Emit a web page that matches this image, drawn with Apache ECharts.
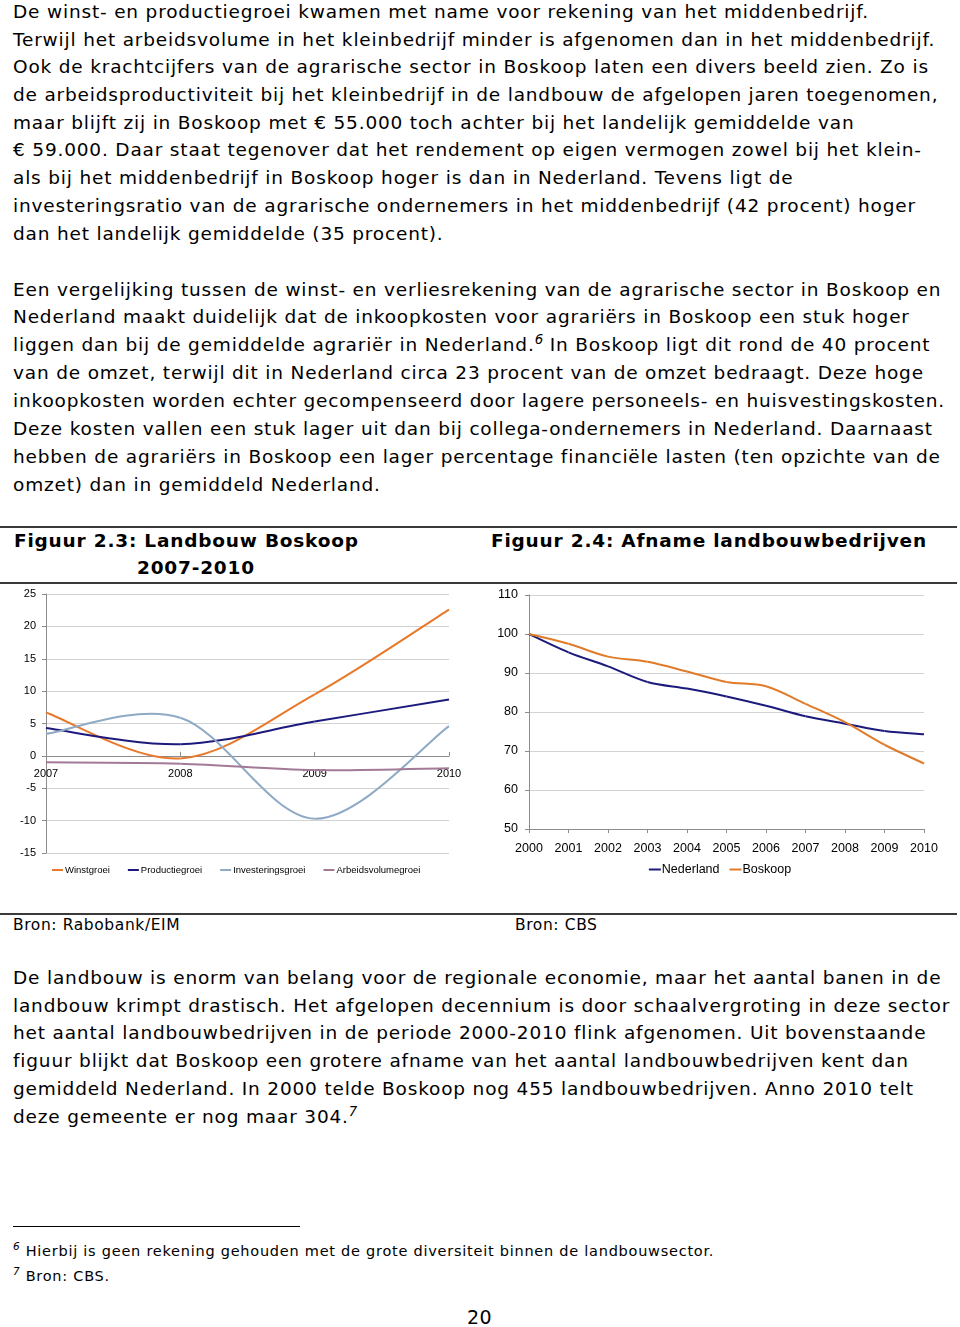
<!DOCTYPE html>
<html><head><meta charset="utf-8">
<script src="https://cdn.jsdelivr.net/npm/echarts@6/dist/echarts.min.js"></script>
<style>
html,body{margin:0;padding:0;background:#fff;}
#page{position:relative;width:960px;height:1327px;overflow:hidden;font-family:"DejaVu Sans",Verdana,sans-serif;color:#000;}
.t{position:absolute;white-space:nowrap;font-size:18.5px;letter-spacing:0.82px;line-height:22px;}
.h{position:absolute;white-space:nowrap;font-size:18.5px;letter-spacing:0.8px;line-height:24px;font-weight:bold;}
.s{position:absolute;white-space:nowrap;font-size:15.5px;letter-spacing:0.6px;line-height:20px;}
.f{position:absolute;white-space:nowrap;font-size:14.5px;letter-spacing:0.75px;line-height:18px;}
sup{font-style:italic;font-size:0.72em;line-height:0;letter-spacing:0;}
.rule{position:absolute;height:2px;background:#3a3a3a;}
#c1{position:absolute;left:0;top:580px;width:480px;height:320px;}
#c2{position:absolute;left:480px;top:580px;width:480px;height:320px;}
</style></head>
<body><div id="page">
<div class="t" style="left:13px;top:1px">De winst- en productiegroei kwamen met name voor rekening van het middenbedrijf.</div>
<div class="t" style="left:13px;top:29px">Terwijl het arbeidsvolume in het kleinbedrijf minder is afgenomen dan in het middenbedrijf.</div>
<div class="t" style="left:13px;top:56px">Ook de krachtcijfers van de agrarische sector in Boskoop laten een divers beeld zien. Zo is</div>
<div class="t" style="left:13px;top:84px">de arbeidsproductiviteit bij het kleinbedrijf in de landbouw de afgelopen jaren toegenomen,</div>
<div class="t" style="left:13px;top:112px">maar blijft zij in Boskoop met € 55.000 toch achter bij het landelijk gemiddelde van</div>
<div class="t" style="left:13px;top:139px">€ 59.000. Daar staat tegenover dat het rendement op eigen vermogen zowel bij het klein-</div>
<div class="t" style="left:13px;top:167px">als bij het middenbedrijf in Boskoop hoger is dan in Nederland. Tevens ligt de</div>
<div class="t" style="left:13px;top:195px">investeringsratio van de agrarische ondernemers in het middenbedrijf (42 procent) hoger</div>
<div class="t" style="left:13px;top:223px">dan het landelijk gemiddelde (35 procent).</div>

<div class="t" style="left:13px;top:279px">Een vergelijking tussen de winst- en verliesrekening van de agrarische sector in Boskoop en</div>
<div class="t" style="left:13px;top:306px">Nederland maakt duidelijk dat de inkoopkosten voor agrariërs in Boskoop een stuk hoger</div>
<div class="t" style="left:13px;top:334px">liggen dan bij de gemiddelde agrariër in Nederland.<sup>6</sup> In Boskoop ligt dit rond de 40 procent</div>
<div class="t" style="left:13px;top:362px">van de omzet, terwijl dit in Nederland circa 23 procent van de omzet bedraagt. Deze hoge</div>
<div class="t" style="left:13px;top:390px">inkoopkosten worden echter gecompenseerd door lagere personeels- en huisvestingskosten.</div>
<div class="t" style="left:13px;top:418px">Deze kosten vallen een stuk lager uit dan bij collega-ondernemers in Nederland. Daarnaast</div>
<div class="t" style="left:13px;top:446px">hebben de agrariërs in Boskoop een lager percentage financiële lasten (ten opzichte van de</div>
<div class="t" style="left:13px;top:474px">omzet) dan in gemiddeld Nederland.</div>

<div class="rule" style="left:0;top:526px;width:957px"></div>
<div class="h" style="left:14px;top:529px">Figuur 2.3: Landbouw Boskoop</div>
<div class="h" style="left:137px;top:556px">2007-2010</div>
<div class="h" style="left:491px;top:529px">Figuur 2.4: Afname landbouwbedrijven</div>
<div class="rule" style="left:0;top:582px;width:957px"></div>

<div id="c1"></div>
<div id="c2"></div>

<div class="rule" style="left:0;top:913px;width:957px"></div>
<div class="s" style="left:13px;top:915px">Bron: Rabobank/EIM</div>
<div class="s" style="left:515px;top:915px">Bron: CBS</div>

<div class="t" style="left:13px;top:967px">De landbouw is enorm van belang voor de regionale economie, maar het aantal banen in de</div>
<div class="t" style="left:13px;top:995px">landbouw krimpt drastisch. Het afgelopen decennium is door schaalvergroting in deze sector</div>
<div class="t" style="left:13px;top:1022px">het aantal landbouwbedrijven in de periode 2000-2010 flink afgenomen. Uit bovenstaande</div>
<div class="t" style="left:13px;top:1050px">figuur blijkt dat Boskoop een grotere afname van het aantal landbouwbedrijven kent dan</div>
<div class="t" style="left:13px;top:1078px">gemiddeld Nederland. In 2000 telde Boskoop nog 455 landbouwbedrijven. Anno 2010 telt</div>
<div class="t" style="left:13px;top:1106px">deze gemeente er nog maar 304.<sup>7</sup></div>

<div style="position:absolute;left:13px;top:1226px;width:287px;height:1px;background:#000"></div>
<div class="f" style="left:13px;top:1242px"><sup>6</sup><span style="margin-left:6px">Hierbij is geen rekening gehouden met de grote diversiteit binnen de landbouwsector.</span></div>
<div class="f" style="left:13px;top:1267px"><sup>7</sup><span style="margin-left:6px">Bron: CBS.</span></div>
<div class="t" style="left:467px;top:1306px;font-size:19px;letter-spacing:0.5px">20</div>
</div>
<script>
// Figuur 2.3 data
var years1 = ['2007','2008','2009','2010'];
var winstgroei = [6.7, -0.4, 9.5, 22.6];
var productiegroei = [4.3, 1.8, 5.3, 8.7];
var investeringsgroei = [3.4, 5.9, -9.7, 4.6];
var arbeidsvolumegroei = [-1.0, -1.2, -2.2, -1.9];
var ticks1 = {min:-15, max:25, interval:5};
// Figuur 2.4 data
var years2 = ['2000','2001','2002','2003','2004','2005','2006','2007','2008','2009','2010'];
var nederland = [100, 95.3, 91.7, 87.7, 86.0, 84.0, 81.6, 78.9, 77.0, 75.1, 74.3];
var boskoop = [100, 97.5, 94.2, 92.9, 90.4, 87.7, 86.6, 82.1, 77.4, 71.6, 66.8];
var ticks2 = {min:50, max:110, interval:10};

var FONT = '"Liberation Sans", Arial, sans-serif';

// Excel-style smoothed line (Catmull-Rom through the data points, in pixel space)
function curveSeries(name, values, color, width){
  return {
    name:name, type:'custom', coordinateSystem:'cartesian2d',
    data: values.map(function(v,i){return [i,v];}),
    encode:{x:0, y:1},
    itemStyle:{color:color},
    renderItem:function(params, api){
      if (params.dataIndex !== 0) return null;
      var pts = values.map(function(v,i){return api.coord([i,v]);});
      var children = [];
      for (var i=0;i<pts.length-1;i++){
        var p0 = pts[i-1] || pts[i], p1 = pts[i], p2 = pts[i+1], p3 = pts[i+2] || pts[i+1];
        children.push({type:'bezierCurve', shape:{
          x1:p1[0], y1:p1[1], x2:p2[0], y2:p2[1],
          cpx1:p1[0]+(p2[0]-p0[0])/6, cpy1:p1[1]+(p2[1]-p0[1])/6,
          cpx2:p2[0]-(p3[0]-p1[0])/6, cpy2:p2[1]-(p3[1]-p1[1])/6},
          style:{stroke:color, lineWidth:width, fill:null}, silent:true});
      }
      return {type:'group', children:children};
    }
  };
}

var grid1 = {left:46, right:31, top:14, bottom:47};
var gridH1 = 320 - grid1.top - grid1.bottom;
var c1 = echarts.init(document.getElementById('c1'), null, {renderer:'canvas'});
c1.setOption({
  animation:false,
  grid:grid1,
  legend:{left:52, top:285, padding:0, icon:'rect', itemWidth:11, itemHeight:2, itemGap:18,
    textStyle:{fontFamily:FONT, fontSize:9.5, color:'#000', padding:[0,0,0,-3]},
    data:['Winstgroei','Productiegroei','Investeringsgroei','Arbeidsvolumegroei']},
  xAxis:{type:'category', data:years1, boundaryGap:false,
    offset: -gridH1*(0-ticks1.min)/(ticks1.max-ticks1.min),
    axisLine:{onZero:false, lineStyle:{color:'#8c8c8c', width:1}},
    axisTick:{show:true, inside:true, length:4, lineStyle:{color:'#8c8c8c'}},
    axisLabel:{fontFamily:FONT, fontSize:11, color:'#000', margin:13}},
  yAxis:{type:'value', min:ticks1.min, max:ticks1.max, interval:ticks1.interval,
    axisLine:{show:true, lineStyle:{color:'#8c8c8c'}},
    axisTick:{show:true, length:4, lineStyle:{color:'#8c8c8c'}},
    axisLabel:{fontFamily:FONT, fontSize:11, color:'#000', margin:10},
    splitLine:{lineStyle:{color:'#d3d3d3', width:1}}},
  series:[
    curveSeries('Winstgroei', winstgroei, '#E8782A', 2),
    curveSeries('Productiegroei', productiegroei, '#1C1A7C', 2),
    curveSeries('Investeringsgroei', investeringsgroei, '#8FAAC4', 2),
    curveSeries('Arbeidsvolumegroei', arbeidsvolumegroei, '#A27A97', 2)
  ]
});

var c2 = echarts.init(document.getElementById('c2'), null, {renderer:'canvas'});
c2.setOption({
  animation:false,
  grid:{left:49, right:36, top:15, bottom:71},
  legend:{left:'center', top:283, padding:0, icon:'rect', itemWidth:12, itemHeight:2, itemGap:10,
    textStyle:{fontFamily:FONT, fontSize:12.5, color:'#000', padding:[0,0,0,-4]},
    data:['Nederland','Boskoop']},
  xAxis:{type:'category', data:years2, boundaryGap:false,
    axisLine:{lineStyle:{color:'#8c8c8c'}},
    axisTick:{show:true, length:4, lineStyle:{color:'#8c8c8c'}},
    axisLabel:{fontFamily:FONT, fontSize:12.5, color:'#000', margin:13}},
  yAxis:{type:'value', min:ticks2.min, max:ticks2.max, interval:ticks2.interval,
    axisLine:{show:true, lineStyle:{color:'#8c8c8c'}},
    axisTick:{show:true, length:4, lineStyle:{color:'#8c8c8c'}},
    axisLabel:{fontFamily:FONT, fontSize:12.5, color:'#000', margin:11},
    splitLine:{lineStyle:{color:'#d3d3d3', width:1}}},
  series:[
    curveSeries('Nederland', nederland, '#1C1A7C', 2),
    curveSeries('Boskoop', boskoop, '#E07B2A', 2)
  ]
});
</script>
</body></html>
